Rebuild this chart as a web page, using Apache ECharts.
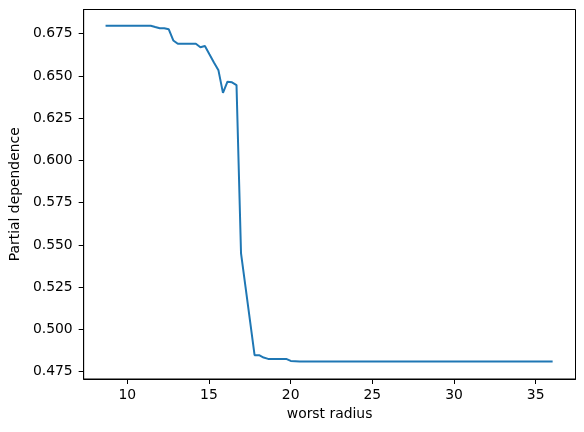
<!DOCTYPE html>
<html>
<head>
<meta charset="utf-8">
<script src="https://cdn.jsdelivr.net/npm/echarts@6/dist/echarts.min.js"></script>
<style>html,body{margin:0;padding:0;background:#fff;}#c{width:584px;height:432px;}</style>
</head>
<body>
<div id="c"></div>
<script>
// Vertices of the partial dependence curve (worst radius, partial dependence)
const radius = [8.67, 11.435, 11.711, 11.988, 12.264, 12.541, 12.817, 13.093, 14.199, 14.476, 14.752, 15.029, 15.305, 15.582, 15.858, 16.134, 16.411, 16.687, 16.964, 17.240, 17.517, 17.793, 18.070, 18.346, 18.622, 19.728, 20.005, 20.558, 36.04];
const dependence = [0.6797, 0.6797, 0.6789, 0.6782, 0.6782, 0.6776, 0.6710, 0.6690, 0.6690, 0.6670, 0.6677, 0.6628, 0.6580, 0.6533, 0.6400, 0.6466, 0.6462, 0.6446, 0.5450, 0.5250, 0.5050, 0.4848, 0.4848, 0.4834, 0.4826, 0.4826, 0.4814, 0.4811, 0.4810];
const xTicks = [10, 15, 20, 25, 30, 35];
const yTicks = [0.475, 0.500, 0.525, 0.550, 0.575, 0.600, 0.625, 0.650, 0.675];

const font = 'DejaVu Sans';
const chart = echarts.init(document.getElementById('c'), null, {renderer: 'canvas'});
chart.setOption({
  animation: false,
  backgroundColor: '#fff',
  grid: {left: 79.5, right: 8.5, top: 9.5, bottom: 53, show: true, borderColor: '#000', borderWidth: 1, containLabel: false},
  xAxis: {
    type: 'value', min: 7.33, max: 37.44,
    name: 'worst radius', nameLocation: 'middle', nameGap: 26,
    nameTextStyle: {fontFamily: font, fontSize: 13.9, color: '#000'},
    axisLine: {show: true, lineStyle: {color: '#000', width: 1}},
    axisTick: {show: true, length: 5, lineStyle: {color: '#000', width: 1}, customValues: xTicks},
    axisLabel: {fontFamily: font, fontSize: 13.9, color: '#000', margin: 9, customValues: xTicks, formatter: v => String(v)},
    splitLine: {show: false}
  },
  yAxis: {
    type: 'value', min: 0.4707, max: 0.6893,
    name: 'Partial dependence', nameLocation: 'middle', nameGap: 55, nameRotate: 90,
    nameTextStyle: {fontFamily: font, fontSize: 13.9, color: '#000'},
    axisLine: {show: true, lineStyle: {color: '#000', width: 1}},
    axisTick: {show: true, length: 5, lineStyle: {color: '#000', width: 1}, customValues: yTicks},
    axisLabel: {fontFamily: font, fontSize: 13.9, color: '#000', margin: 11, customValues: yTicks, formatter: v => v.toFixed(3)},
    splitLine: {show: false}
  },
  series: [{
    type: 'line',
    data: radius.map((x, i) => [x, dependence[i]]),
    showSymbol: false,
    lineStyle: {color: '#1f77b4', width: 2},
    itemStyle: {color: '#1f77b4'}
  }]
});
</script>
</body>
</html>
